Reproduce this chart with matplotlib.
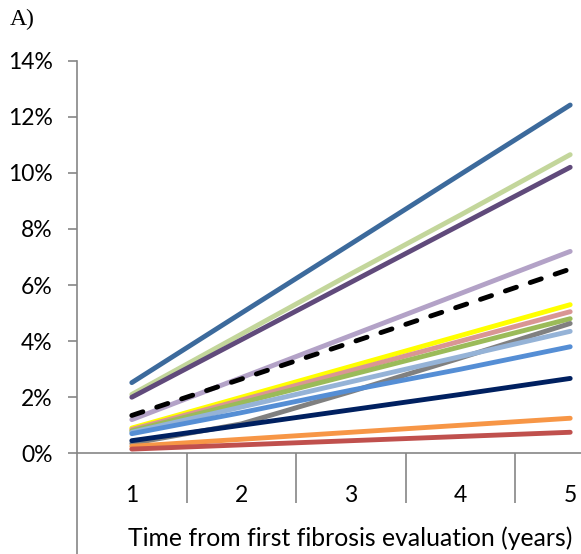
import matplotlib
matplotlib.use('Agg')
import matplotlib.pyplot as plt
from matplotlib.lines import Line2D
from matplotlib.ticker import FuncFormatter, FixedLocator

plt.rcParams['font.family'] = ['Lato', 'DejaVu Sans']

# ── data: cumulative risk (%) by year since first fibrosis evaluation ──
years = [1, 2, 3, 4, 5]
year_labels = ['1', '2', '3', '4', '5']
y_ticks = [0, 2, 4, 6, 8, 10, 12, 14]

yellow     = [0.90, 2.00, 3.10, 4.20, 5.30]
pink       = [0.85, 1.90, 2.95, 4.00, 5.05]
green      = [0.80, 1.80, 2.80, 3.80, 4.80]
light_blue = [0.75, 1.65, 2.55, 3.45, 4.35]
grey       = [0.35, 1.05, 2.20, 3.40, 4.63]
mid_blue   = [0.70, 1.45, 2.25, 3.00, 3.80]
navy       = [0.45, 1.00, 1.55, 2.10, 2.67]
orange     = [0.25, 0.50, 0.75, 1.00, 1.25]
red        = [0.15, 0.30, 0.45, 0.60, 0.75]
lavender   = [1.20, 2.70, 4.20, 5.70, 7.20]
overall    = [1.35, 2.65, 3.95, 5.25, 6.57]
purple     = [2.00, 4.05, 6.10, 8.15, 10.20]
sage       = [2.10, 4.25, 6.40, 8.50, 10.65]
steel      = [2.52, 5.00, 7.47, 9.95, 12.42]

# drawing order: later series sit on top
series = [
    (yellow,     '#FFFF00'),
    (pink,       '#D99694'),
    (green,      '#9BBB59'),
    (grey,       '#808080'),
    (light_blue, '#95B3D7'),
    (mid_blue,   '#558ED5'),
    (navy,       '#002060'),
    (orange,     '#F79646'),
    (red,        '#C0504D'),
    (lavender,   '#B3A2C7'),
    (sage,       '#C3D69B'),
    (purple,     '#604A7B'),
    (steel,      '#3C6A9C'),
]

W, H = 581, 554
fig = plt.figure(figsize=(W / 100, H / 100), dpi=100)

# axes runs past the right edge, like the cropped Excel chart
x0, y0, y1 = 77, 453.3, 60.7
cat_w = 109.6
ax = fig.add_axes([x0 / W, (H - y0) / H, 5 * cat_w / W, (y0 - y1) / H])

AXIS_COL = '#868686'

for vals, col in series:
    ax.plot(years, vals, color=col, lw=3.5, solid_capstyle='round', zorder=3)
ax.plot(years, overall, color='black', lw=3.5, dashes=(2.4, 3.0),
        dash_capstyle='round', zorder=4)

ax.set_xlim(0.5, 5.5)
ax.set_ylim(0, 14)

for s in ['top', 'right']:
    ax.spines[s].set_visible(False)
for s in ['left', 'bottom']:
    ax.spines[s].set_color(AXIS_COL)
    ax.spines[s].set_linewidth(1.2)

ax.yaxis.set_major_locator(FixedLocator(y_ticks))
ax.yaxis.set_major_formatter(FuncFormatter(lambda v, p: f'{v:.0f}%'))
ax.tick_params(axis='y', direction='out', length=6.5, width=1.2,
               color=AXIS_COL, labelsize=16.5, pad=11, labelcolor='black')

ax.set_xticks(years)
ax.set_xticklabels(year_labels)
ax.set_xticks([1.5, 2.5, 3.5, 4.5], minor=True)
ax.tick_params(axis='x', which='major', length=0, labelsize=16.5, pad=23)
ax.tick_params(axis='x', which='minor', direction='out', length=36,
               width=1.2, color=AXIS_COL)

# y-axis line continues down through the category area
fig.add_artist(Line2D([x0 / W, x0 / W], [0, (H - y0) / H],
                      color=AXIS_COL, lw=1.2))

fig.text(128 / W, 1 - 538 / H, 'Time from first fibrosis evaluation (years)',
         fontsize=17.8, ha='left', va='center')
fig.text(10 / W, 1 - 19 / H, 'A)', family='Liberation Serif',
         fontsize=17, ha='left', va='center')

fig.savefig('out.png', dpi=100)
